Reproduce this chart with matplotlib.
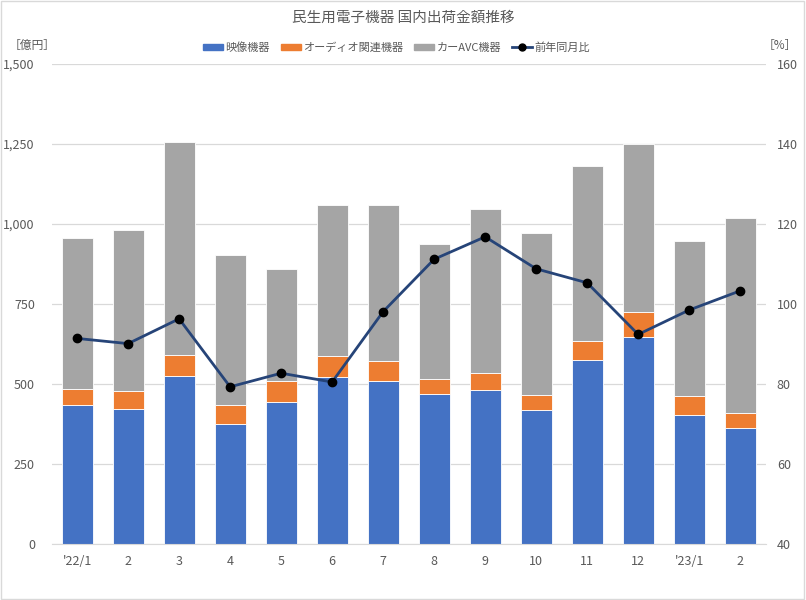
import numpy as np
import matplotlib.pyplot as plt
from matplotlib.patches import Patch
from matplotlib.lines import Line2D

plt.rcParams['font.family'] = ['Noto Sans CJK JP', 'DejaVu Sans']

months = ["'22/1", '2', '3', '4', '5', '6', '7', '8', '9', '10', '11', '12', "'23/1", '2']
video = [433, 421, 526, 374, 444, 521, 509, 468, 482, 418, 576, 647, 404, 364]
audio = [53, 57, 66, 59, 64, 68, 63, 48, 54, 49, 58, 79, 60, 45]
car_avc = [471, 503, 663, 469, 353, 469, 488, 420, 512, 506, 546, 523, 484, 609]
yoy = [91.4, 90.1, 96.3, 79.3, 82.7, 80.5, 98.1, 111.2, 116.8, 108.8, 105.3, 92.4, 98.5, 103.3]

c_video = '#4472C4'
c_audio = '#ED7D31'
c_car = '#A5A5A5'
c_line = '#264478'
txt = '#595959'

fig = plt.figure(figsize=(8.06, 6.0), dpi=100)
ax = fig.add_axes([0.064, 0.0933, 0.886, 0.80])
x = np.arange(len(months))
w = 0.61
video = np.array(video)
audio = np.array(audio)
car_avc = np.array(car_avc)
ax.bar(x, video, w, color=c_video, edgecolor='white', linewidth=0.6, zorder=2)
ax.bar(x, audio, w, bottom=video, color=c_audio, edgecolor='white', linewidth=0.6, zorder=2)
ax.bar(x, car_avc, w, bottom=video + audio, color=c_car, edgecolor='white', linewidth=0.6, zorder=2)

ax.set_xlim(-0.5, len(months) - 0.5)
ax.set_ylim(0, 1500)
ax.set_yticks(np.arange(0, 1501, 250))
ax.set_yticklabels([f'{v:,}' for v in range(0, 1501, 250)])
ax.set_xticks(x)
ax.set_xticklabels(months)
ax.grid(axis='y', color='#D9D9D9', linewidth=0.9, zorder=0)
for s in ['top', 'right', 'left']:
    ax.spines[s].set_visible(False)
ax.spines['bottom'].set_color('#D9D9D9')
ax.tick_params(axis='both', length=0, colors=txt, labelsize=9)
ax.tick_params(axis='y', pad=12)
ax.tick_params(axis='x', pad=8)

ax2 = ax.twinx()
ax2.plot(x, yoy, color=c_line, linewidth=2, marker='o', markersize=6,
         markerfacecolor='black', markeredgecolor='black', zorder=5)
ax2.set_ylim(40, 160)
ax2.set_yticks(np.arange(40, 161, 20))
for s in ['top', 'right', 'left', 'bottom']:
    ax2.spines[s].set_visible(False)
ax2.tick_params(axis='y', length=0, colors=txt, labelsize=9, pad=8)

fig.text(0.5, 0.97, '民生用電子機器 国内出荷金額推移', ha='center', va='center', fontsize=10.5, color=txt)
fig.text(0.040, 0.925, '［億円］', ha='center', va='center', fontsize=8.5, color=txt)
fig.text(0.968, 0.925, '［%］', ha='center', va='center', fontsize=8.5, color=txt)

handles = [Patch(color=c_video), Patch(color=c_audio), Patch(color=c_car),
           Line2D([0], [0], color=c_line, linewidth=2, marker='o', markersize=5,
                  markerfacecolor='black', markeredgecolor='black')]
labels = ['映像機器', 'オーディオ関連機器', 'カーAVC機器', '前年同月比']
fig.legend(handles, labels, loc='center', bbox_to_anchor=(0.492, 0.921), ncol=4, frameon=False,
           fontsize=8, labelcolor=txt, handlelength=1.8, handleheight=0.45,
           handletextpad=0.2, columnspacing=1.0)

fig.patches.append(plt.Rectangle((0.001, 0.001), 0.997, 0.997, transform=fig.transFigure,
                                 fill=False, edgecolor='#D9D9D9', linewidth=1))

plt.savefig('out.png', dpi=100)
plt.close()
